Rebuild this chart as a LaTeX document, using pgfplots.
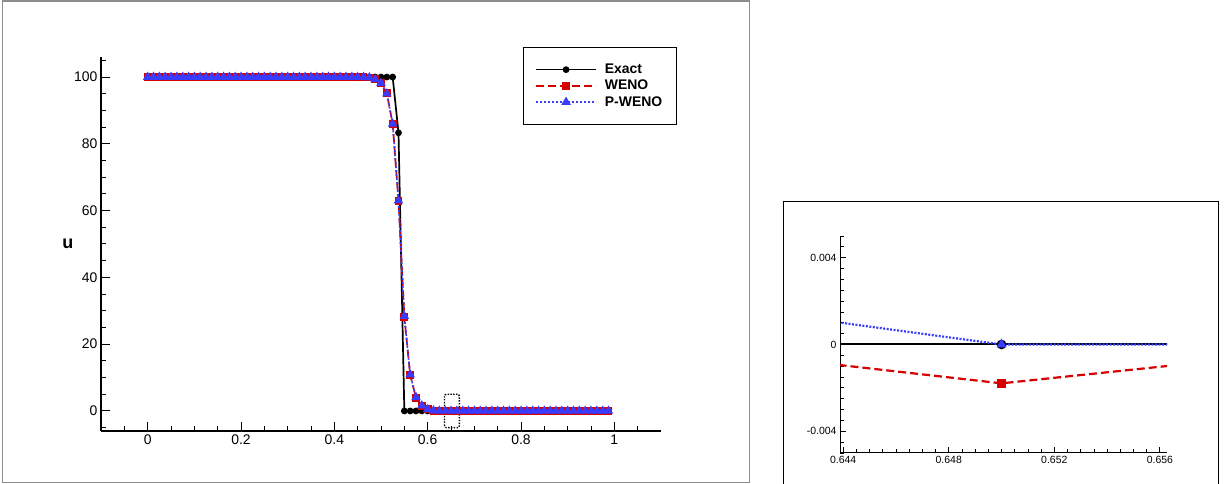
\documentclass[border=0pt]{standalone}
\usepackage{pgfplots}
\pgfplotsset{compat=1.18}
\usepackage{pgfplotstable}
\usepackage{fontspec}
\setmainfont{Liberation Sans}
\definecolor{wred}{RGB}{215,0,0}
\definecolor{pblue}{RGB}{55,60,255}

\pgfplotstableread{
x exact weno pweno
0 100 100 100
0.0125 100 100 100
0.025 100 100 100
0.0375 100 100 100
0.05 100 100 100
0.0625 100 100 100
0.075 100 100 100
0.0875 100 100 100
0.1 100 100 100
0.1125 100 100 100
0.125 100 100 100
0.1375 100 100 100
0.15 100 100 100
0.1625 100 100 100
0.175 100 100 100
0.1875 100 100 100
0.2 100 100 100
0.2125 100 100 100
0.225 100 100 100
0.2375 100 100 100
0.25 100 100 100
0.2625 100 100 100
0.275 100 100 100
0.2875 100 100 100
0.3 100 100 100
0.3125 100 100 100
0.325 100 100 100
0.3375 100 100 100
0.35 100 100 100
0.3625 100 100 100
0.375 100 100 100
0.3875 100 100 100
0.4 100 100 100
0.4125 100 100 100
0.425 100 100 100
0.4375 100 100 100
0.45 100 99.99 99.99
0.4625 100 99.96 99.96
0.475 100 99.85 99.85
0.4875 100 99.3 99.3
0.5 100 98.3 98.2
0.5125 100 95.1 95.0
0.525 100 86.0 86.0
0.5375 83.3 63.0 63.0
0.55 0 28.2 28.4
0.5625 0 10.8 10.9
0.575 0 4.0 4.1
0.5875 0 1.6 1.6
0.6 0 0.5 0.5
0.6125 0 0.12 0.12
0.625 0 0.02 0.02
0.6375 0 -0.00007 0.00206
0.65 0 -0.00179 0
0.6625 0 -0.0002 0
0.675 0 0 0
0.6875 0 0 0
0.7 0 0 0
0.7125 0 0 0
0.725 0 0 0
0.7375 0 0 0
0.75 0 0 0
0.7625 0 0 0
0.775 0 0 0
0.7875 0 0 0
0.8 0 0 0
0.8125 0 0 0
0.825 0 0 0
0.8375 0 0 0
0.85 0 0 0
0.8625 0 0 0
0.875 0 0 0
0.8875 0 0 0
0.9 0 0 0
0.9125 0 0 0
0.925 0 0 0
0.9375 0 0 0
0.95 0 0 0
0.9625 0 0 0
0.975 0 0 0
0.9875 0 0 0
}\data

\begin{document}
\begin{tikzpicture}
\useasboundingbox (0,0) rectangle (1224bp,484bp);
\draw[black!45, line width=1.5bp] (2.5bp,1.5bp) rectangle (749.5bp,483bp);
\draw[black, line width=1bp] (783.5bp,-1bp) -- (783.5bp,282bp) -- (1218bp,282bp) -- (1218bp,-1bp);

\begin{axis}[
  scale only axis, width=560bp, height=374bp,
  at={(101bp,53bp)}, anchor=south west,
  xmin=-0.1, xmax=1.1, ymin=-6, ymax=106,
  axis x line=bottom, axis y line=left,
  axis line style={-, line width=1.3bp},
  tick align=inside,
  major tick length=9bp, minor tick length=5bp,
  tick style={line width=1bp, black},
  xtick={0,0.2,0.4,0.6,0.8,1},
  minor xtick={-0.05,0.05,0.1,0.15,0.25,0.3,0.35,0.45,0.5,0.55,0.65,0.7,0.75,0.85,0.9,0.95,1.05},
  ytick={0,20,40,60,80,100},
  minor ytick={-5,5,10,15,25,30,35,45,50,55,65,70,75,85,90,95,105},
  /pgf/number format/assume math mode=true,
  ticklabel style={font=\fontsize{14}{16}\selectfont},
  ylabel={u},
  ylabel style={font=\bfseries\fontsize{18}{18}\selectfont, rotate=-90, at={(axis description cs:-0.059,0.5)}, anchor=center},
  legend style={at={(rel axis cs:0.7536,1.027)}, anchor=north west, draw=black, fill=white,
    inner xsep=12bp, inner ysep=15bp, row sep=1bp, column sep=6bp,
    nodes={inner sep=2bp},
    font=\bfseries\fontsize{14}{16}\selectfont, cells={anchor=west}},
  legend image code/.code={\draw[mark repeat=2, mark phase=2, #1] plot coordinates {(0bp,0bp) (30bp,0bp) (60bp,0bp)};},
  clip=false,
]
\addplot[black, line width=1.7bp, mark=*, mark size=2.5bp] table[x=x, y=exact] {\data};
\addlegendentry{Exact}
\addplot[wred, line width=1.7bp, dash pattern=on 8bp off 4bp, mark=square*, mark size=3.1bp, mark options={solid}] table[x=x, y=weno] {\data};
\addlegendentry{WENO}
\addplot[pblue, line width=1.7bp, dash pattern=on 2bp off 2bp, mark=triangle*, mark size=3.8bp, mark options={solid}] table[x=x, y=pweno] {\data};
\addlegendentry{P-WENO}
\draw[black, line width=1.4bp, dash pattern=on 1.4bp off 1.4bp, rounded corners=2bp] (axis cs:0.636,-5) rectangle (axis cs:0.668,5);
\end{axis}

\begin{axis}[
  scale only axis, width=327bp, height=217bp,
  at={(840bp,31bp)}, anchor=south west,
  xmin=0.64388, xmax=0.65627, ymin=-0.005, ymax=0.005,
  axis x line=bottom, axis y line=left,
  axis line style={-, line width=1bp},
  tick align=inside,
  major tick length=6bp, minor tick length=3.5bp,
  tick style={line width=0.8bp, black},
  scaled x ticks=false, scaled y ticks=false,
  xtick={0.644,0.648,0.652,0.656},
  minor xtick={0.6445,0.645,0.6455,0.646,0.6465,0.647,0.6475,0.6485,0.649,0.6495,0.65,0.6505,0.651,0.6515,0.6525,0.653,0.6535,0.654,0.6545,0.655,0.6555},
  ytick={-0.004,0,0.004},
  minor ytick={-0.005,-0.0045,-0.0035,-0.003,-0.0025,-0.002,-0.0015,-0.001,-0.0005,0.0005,0.001,0.0015,0.002,0.0025,0.003,0.0035,0.0045,0.005},
  /pgf/number format/assume math mode=true,
  xticklabel style={font=\fontsize{10.5}{12}\selectfont, /pgf/number format/.cd, fixed, precision=3},
  yticklabel style={font=\fontsize{10.5}{12}\selectfont, /pgf/number format/.cd, fixed, precision=3},
]
\addplot[black, line width=2bp, mark=*, mark size=3.8bp, restrict x to domain=0.63:0.67] table[x=x, y=exact] {\data};
\addplot[wred, line width=2.2bp, dash pattern=on 8bp off 4bp, mark=square*, mark size=3.3bp, mark options={solid}, restrict x to domain=0.63:0.67] table[x=x, y=weno] {\data};
\addplot[pblue, line width=2.2bp, dash pattern=on 2bp off 1.5bp, mark=triangle*, mark size=3.8bp, mark options={solid}, restrict x to domain=0.63:0.67] table[x=x, y=pweno] {\data};
\end{axis}
\end{tikzpicture}
\end{document}
